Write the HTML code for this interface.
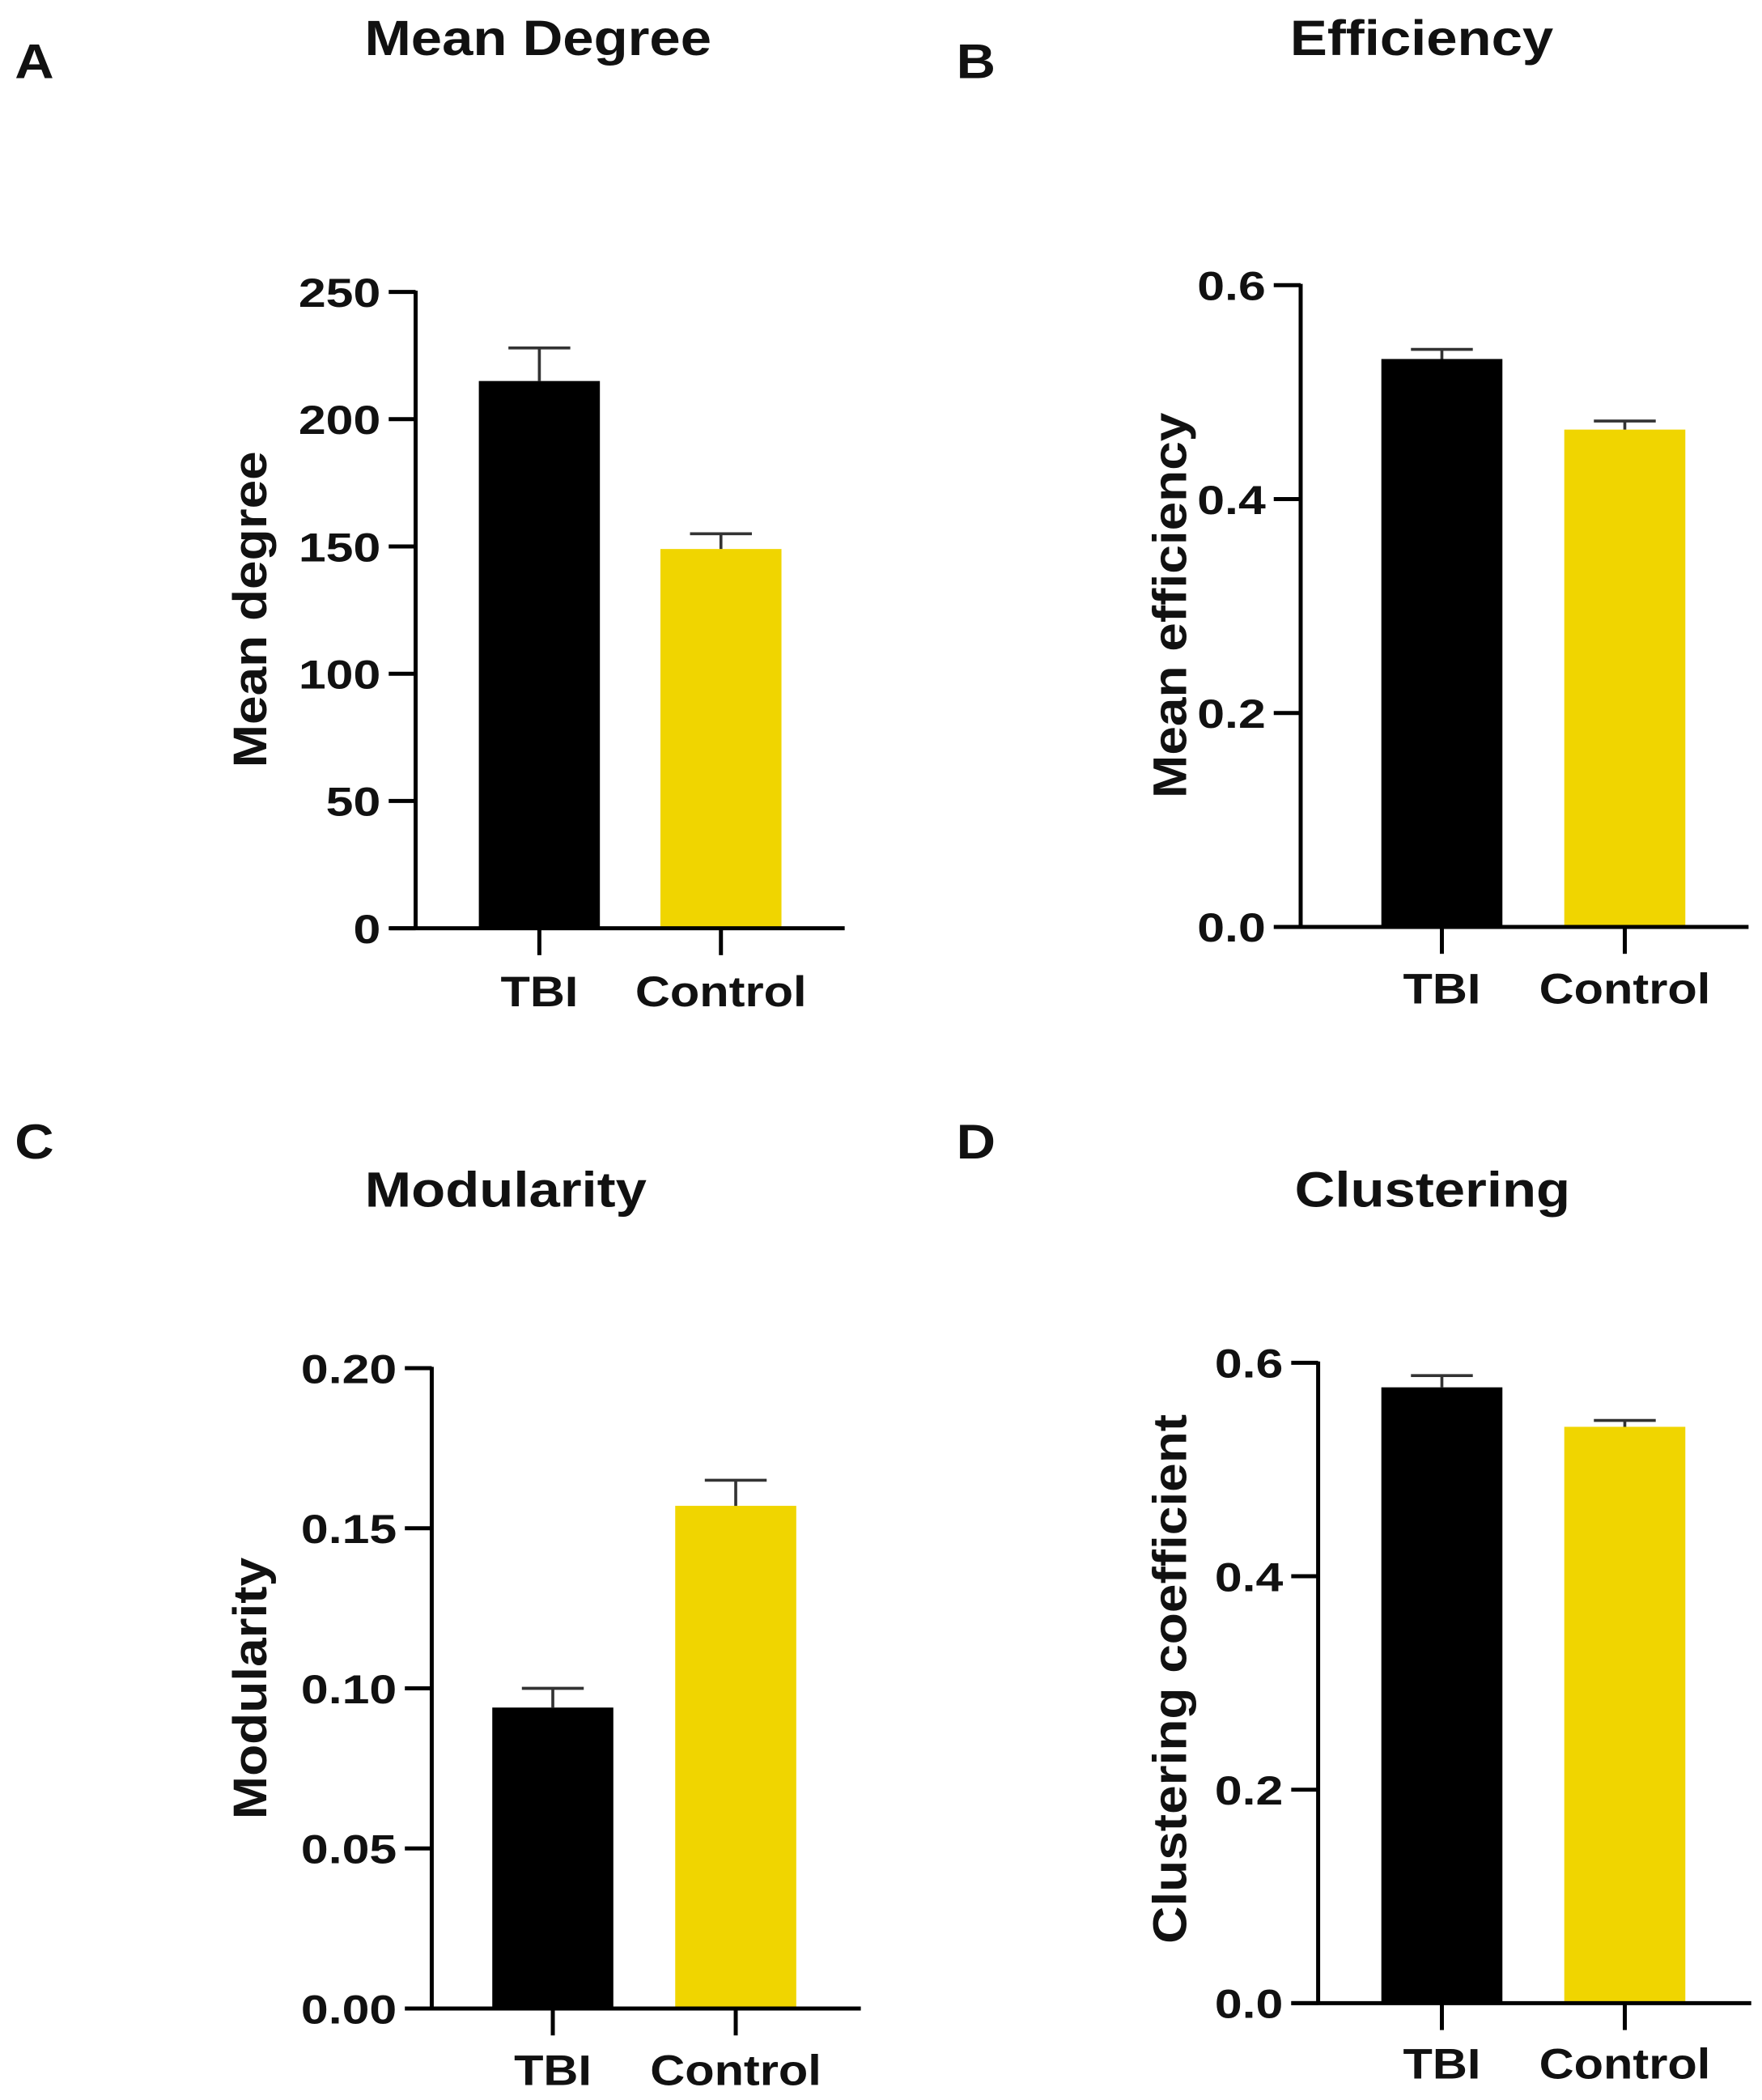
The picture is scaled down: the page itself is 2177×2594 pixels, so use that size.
<!DOCTYPE html>
<html><head><meta charset="utf-8">
<style>
html,body{margin:0;padding:0;background:#fff;}
svg{display:block;}
text{font-family:"Liberation Sans",Arial,sans-serif;font-weight:bold;fill:#111;}
</style></head>
<body>
<svg id="fig" width="2177" height="2594" viewBox="0 0 1310 1561" preserveAspectRatio="none" xmlns="http://www.w3.org/2000/svg"></svg>
<script>
const categories = ["TBI", "Control"];
const degreeValues = [215, 149];
const degreeErrors = [13, 6];
const degreeTicks = [0, 50, 100, 150, 200, 250];
const degreeTickLabels = ["0", "50", "100", "150", "200", "250"];
const effValues = [0.531, 0.465];
const effErrors = [0.009, 0.008];
const effTicks = [0, 0.2, 0.4, 0.6];
const effTickLabels = ["0.0", "0.2", "0.4", "0.6"];
const modValues = [0.094, 0.157];
const modErrors = [0.006, 0.008];
const modTicks = [0, 0.05, 0.10, 0.15, 0.20];
const modTickLabels = ["0.00", "0.05", "0.10", "0.15", "0.20"];
const clusValues = [0.577, 0.540];
const clusErrors = [0.011, 0.006];
const clusTicks = [0, 0.2, 0.4, 0.6];
const clusTickLabels = ["0.0", "0.2", "0.4", "0.6"];

const svg = document.getElementById('fig');
const NS = "http://www.w3.org/2000/svg";
function mk(tag, attrs, parent){ const e=document.createElementNS(NS,tag); for(const k in attrs) e.setAttribute(k,attrs[k]); (parent||svg).appendChild(e); return e; }
function txt(parent, x, y, size, anchor, sx, str, rot){
  const t = mk('text',{x:0,y:0,'font-size':size,'text-anchor':anchor,
    transform:`translate(${x},${y})${rot?' rotate(-90)':''} scale(${sx},1)`},parent);
  t.textContent = str;
  return t;
}

const panels = [
 {id:"a", letter:"A", lx:25, ly:58, title:"Mean Degree", tx:400, ty:41, ylabel:"Mean degree", ylx:198, yly:453,
  ax:309, y0:690, yTop:217, max:250, xl:290, xr:628, bx:[356,491], vals:degreeValues, errs:degreeErrors, ticks:degreeTicks, tl:degreeTickLabels, labY:748},
 {id:"b", letter:"B", lx:725, ly:58, title:"Efficiency", tx:1057, ty:41, ylabel:"Mean efficiency", ylx:882, yly:450,
  ax:967, y0:689, yTop:212, max:0.6, xl:948, xr:1300, bx:[1027,1163], vals:effValues, errs:effErrors, ticks:effTicks, tl:effTickLabels, labY:746},
 {id:"c", letter:"C", lx:25, ly:861, title:"Modularity", tx:376, ty:897, ylabel:"Modularity", ylx:198, yly:1255,
  ax:321, y0:1493, yTop:1017, max:0.2, xl:302, xr:640, bx:[366,502], vals:modValues, errs:modErrors, ticks:modTicks, tl:modTickLabels, labY:1550},
 {id:"d", letter:"D", lx:725, ly:861, title:"Clustering", tx:1065, ty:897, ylabel:"Clustering coefficient", ylx:882, yly:1248,
  ax:980, y0:1489, yTop:1013, max:0.6, xl:960, xr:1302, bx:[1027,1163], vals:clusValues, errs:clusErrors, ticks:clusTicks, tl:clusTickLabels, labY:1545}
];
const colors = ["#000000", "#f0d500"];
const BW = 90;

panels.forEach(p=>{
  const g = mk('g',{});
  
  
  const y = v => p.y0 - (v / p.max) * (p.y0 - p.yTop);
  let t = txt(g, p.lx-14, p.ly, 36, 'start', 1.12, p.letter);
  
  
  t = txt(g, p.tx, p.ty, 37, 'middle', 1.12, p.title);
  
  
  t = txt(g, p.ylx, p.yly, 35, 'middle', 1.1, p.ylabel, true);
  
  
  p.vals.forEach((v,i)=>{
    const x=p.bx[i], top=y(v), et=y(v+p.errs[i]), cx=x+BW/2;
    const r = mk('rect',{x:x,y:top,width:BW,height:p.y0-top,fill:colors[i]},g);
    
    
    const e = mk('path',{d:`M${cx},${top} V${et} M${cx-23},${et} H${cx+23}`,stroke:'#333','stroke-width':2.2,fill:'none'},g);
    
    
    const tk = mk('line',{x1:cx,x2:cx,y1:p.y0,y2:p.y0+20,stroke:'#000','stroke-width':3},g);
    
    
    const lb = txt(g, cx, p.labY, 32, 'middle', 1.12, categories[i]);
    
    
  });
  const ya = mk('line',{x1:p.ax,x2:p.ax,y1:p.yTop-1,y2:p.y0,stroke:'#000','stroke-width':3},g);
  
  
  const xa = mk('line',{x1:p.xl,x2:p.xr,y1:p.y0,y2:p.y0,stroke:'#000','stroke-width':3},g);
  
  
  p.ticks.forEach((v,i)=>{
    const yy=y(v);
    const l = mk('line',{x1:p.ax-20,x2:p.ax,y1:yy,y2:yy,stroke:'#000','stroke-width':3},g);
    
    
    const tx = txt(g, p.ax-26, yy+11, 30, 'end', 1.22, p.tl[i]);
    
    
  });
});
</script>
</body></html>
